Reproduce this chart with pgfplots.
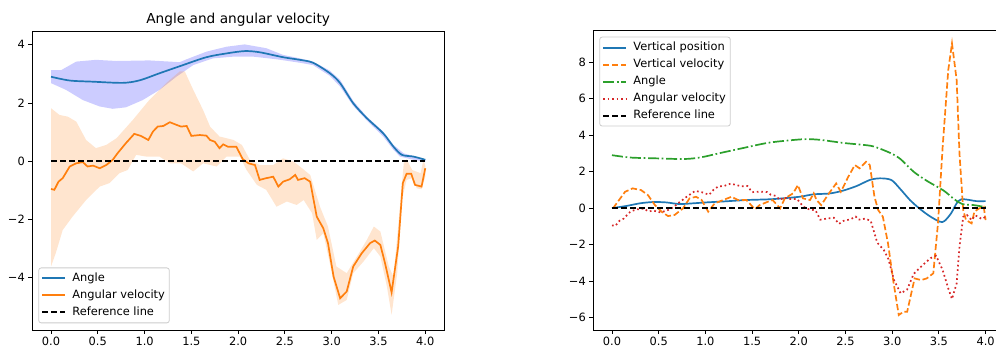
\documentclass[border=0pt]{standalone}
\usepackage{pgfplots}
\pgfplotsset{compat=1.18}
\usepackage{pgfplotstable}
\usepgfplotslibrary{fillbetween}
\usepackage{fontspec}
\setmainfont{DejaVu Sans}
\definecolor{mplblue}{HTML}{1F77B4}
\definecolor{mplorange}{HTML}{FF7F0E}
\definecolor{mplgreen}{HTML}{2CA02C}
\definecolor{mplred}{HTML}{D62728}
\definecolor{legedge}{HTML}{CCCCCC}

\pgfplotstableread{
x y
0 2.90
0.2 2.77
0.45 2.73
0.77 2.69
0.95 2.78
1.16 3.02
1.375 3.26
1.66 3.57
1.875 3.70
2.07 3.78
2.23 3.74
2.48 3.57
2.66 3.48
2.8 3.38
2.98 3.02
3.09 2.68
3.23 1.99
3.375 1.48
3.55 0.96
3.66 0.50
3.75 0.22
3.875 0.16
4.0 0.05
}\angletab

\pgfplotstableread{
x y
0 3.13
0.11 3.13
0.27 3.42
0.48 3.48
0.7 3.44
1.05 3.46
1.375 3.40
1.45 3.50
1.66 3.76
1.875 3.93
2.07 4.01
2.3 3.88
2.48 3.65
2.66 3.53
2.8 3.42
2.98 3.11
3.09 2.79
3.23 2.07
3.375 1.53
3.55 1.02
3.66 0.56
3.77 0.27
4.0 0.07
}\angleup

\pgfplotstableread{
x y
0 2.68
0.16 2.45
0.34 2.10
0.52 1.88
0.66 1.80
0.8 1.85
0.98 2.10
1.16 2.45
1.34 2.90
1.52 3.30
1.73 3.53
1.95 3.59
2.16 3.59
2.41 3.50
2.66 3.38
2.8 3.30
2.98 2.93
3.09 2.56
3.23 1.90
3.375 1.40
3.55 0.85
3.66 0.39
3.73 0.16
3.875 0.05
4.0 -0.01
}\anglelo

\pgfplotstableread{
x y
0.0 -0.95
0.036 -0.98
0.08 -0.70
0.125 -0.58
0.2 -0.18
0.27 -0.07
0.34 -0.03
0.39 -0.18
0.45 -0.15
0.52 -0.24
0.59 -0.13
0.66 0.05
0.71 0.27
0.8 0.62
0.89 0.94
0.96 0.87
1.04 0.73
1.09 1.02
1.14 1.19
1.2 1.21
1.27 1.34
1.34 1.25
1.39 1.19
1.45 1.21
1.5 0.87
1.59 0.90
1.66 0.88
1.7 0.73
1.75 0.67
1.8 0.45
1.84 0.58
1.89 0.50
1.98 0.50
2.05 0.07
2.11 -0.07
2.18 -0.13
2.23 -0.64
2.30 -0.58
2.375 -0.53
2.43 -0.87
2.48 -0.70
2.55 -0.62
2.61 -0.47
2.64 -0.64
2.71 -0.58
2.77 -0.70
2.84 -1.90
2.91 -2.30
2.96 -2.81
3.02 -3.96
3.09 -4.70
3.16 -4.47
3.23 -3.61
3.32 -3.16
3.41 -2.81
3.46 -2.72
3.52 -2.87
3.57 -3.50
3.64 -4.50
3.71 -2.93
3.76 -0.75
3.80 -0.43
3.85 -0.43
3.89 -0.81
3.96 -0.87
4.0 -0.24
}\avtab

\pgfplotstableread{
x y
0 1.82
0.09 1.59
0.18 1.53
0.27 1.36
0.375 0.73
0.48 0.45
0.59 0.56
0.7 0.79
0.875 1.42
1.05 2.10
1.23 2.68
1.375 3.08
1.43 3.08
1.52 2.45
1.625 1.76
1.7 1.19
1.8 0.85
1.95 0.73
2.04 0.56
2.125 0.05
2.23 -0.13
2.375 -0.13
2.48 0.10
2.59 -0.01
2.66 -0.18
2.77 -0.47
2.875 -1.56
2.96 -2.24
3.05 -3.61
3.16 -3.84
3.29 -3.16
3.375 -2.70
3.45 -2.24
3.52 -2.41
3.61 -3.61
3.66 -3.96
3.71 -2.24
3.77 -0.07
3.8 0.07
3.86 -0.30
3.95 -0.41
3.98 0.05
4.0 -0.15
}\avup

\pgfplotstableread{
x y
0 -3.61
0.05 -3.16
0.125 -2.36
0.23 -1.90
0.375 -1.33
0.52 -0.87
0.625 -0.75
0.73 -0.41
0.82 -0.30
0.91 0.22
1.02 0.16
1.16 0.16
1.27 -0.07
1.39 -0.07
1.52 -0.35
1.625 -0.07
1.77 -0.18
1.875 0.16
2.02 0.16
2.09 -0.30
2.2 -0.81
2.30 -0.98
2.41 -1.56
2.52 -1.38
2.625 -1.50
2.70 -1.33
2.79 -1.78
2.84 -2.70
2.91 -2.47
2.98 -3.50
3.07 -4.93
3.16 -4.76
3.23 -3.84
3.34 -3.44
3.45 -2.98
3.52 -3.27
3.59 -4.30
3.64 -5.27
3.70 -3.84
3.75 -1.33
3.80 -0.64
3.86 -0.58
3.91 -0.93
3.96 -0.96
4.0 -0.53
}\avlo

\pgfplotstableread{
x y
0 0
0.15 0.11
0.3 0.26
0.44 0.33
0.58 0.31
0.72 0.22
0.87 0.26
1.01 0.31
1.22 0.37
1.44 0.44
1.72 0.49
2.01 0.62
2.15 0.75
2.33 0.80
2.47 0.95
2.62 1.21
2.76 1.54
2.87 1.63
2.99 1.54
3.08 1.08
3.19 0.44
3.29 -0.02
3.40 -0.44
3.51 -0.75
3.56 -0.71
3.63 -0.29
3.69 0.26
3.74 0.48
3.83 0.44
3.90 0.38
4.0 0.38
}\vpostab

\pgfplotstableread{
x y
0.01 -0.02
0.05 0.26
0.14 0.89
0.22 1.08
0.31 0.99
0.385 0.71
0.46 0.16
0.53 -0.20
0.60 -0.44
0.67 -0.38
0.76 -0.02
0.83 0.53
0.90 0.62
0.96 0.44
1.03 -0.20
1.10 0.26
1.19 0.44
1.28 0.62
1.35 0.44
1.44 0.44
1.53 -0.07
1.58 0.16
1.67 0.35
1.72 0.44
1.80 -0.02
1.85 0.53
1.94 0.81
1.99 1.26
2.045 0.53
2.12 0.44
2.16 0.81
2.19 0.44
2.24 0.16
2.31 0.71
2.40 1.35
2.45 0.89
2.53 1.72
2.60 2.36
2.65 2.18
2.72 2.54
2.76 2.36
2.81 0.62
2.85 -0.11
2.90 -0.48
2.955 -1.94
3.01 -3.95
3.07 -5.87
3.12 -5.69
3.16 -5.69
3.24 -3.86
3.31 -3.95
3.37 -3.86
3.44 -3.58
3.49 -0.84
3.54 3.36
3.60 7.57
3.64 9.03
3.69 7.02
3.72 3.00
3.76 -0.11
3.79 -0.66
3.85 -0.84
3.88 -0.20
3.93 -0.02
3.98 0.07
4.0 -0.66
}\vveltab

\pgfplotstableread{
x y
0.0 -0.95
0.036 -0.98
0.08 -0.70
0.125 -0.58
0.2 -0.18
0.27 -0.07
0.34 -0.03
0.39 -0.18
0.45 -0.15
0.52 -0.24
0.59 -0.13
0.66 0.05
0.71 0.27
0.8 0.62
0.89 0.94
0.96 0.87
1.04 0.73
1.09 1.02
1.14 1.19
1.2 1.21
1.27 1.34
1.34 1.25
1.39 1.19
1.45 1.21
1.5 0.87
1.59 0.90
1.66 0.88
1.7 0.73
1.75 0.67
1.8 0.45
1.84 0.58
1.89 0.50
1.98 0.50
2.05 0.07
2.11 -0.07
2.18 -0.13
2.23 -0.64
2.30 -0.58
2.375 -0.53
2.43 -0.87
2.48 -0.70
2.55 -0.62
2.61 -0.47
2.64 -0.64
2.71 -0.58
2.77 -0.70
2.84 -1.90
2.91 -2.30
2.96 -2.81
3.02 -3.96
3.09 -4.68
3.16 -4.47
3.23 -3.61
3.32 -3.16
3.41 -2.75
3.47 -2.62
3.54 -3.40
3.60 -4.41
3.64 -4.99
3.69 -4.13
3.72 -2.12
3.76 -0.48
3.80 -0.38
3.85 -0.66
3.89 -0.40
3.96 -0.60
4.0 -0.48
}\avtabB

\pgfplotsset{
  mpl/.style={
    scale only axis,
    axis line style={line width=0.9pt},
    tick align=outside,
    tick pos=left,
    major tick length=4pt,
    every tick/.style={black, line width=0.9pt},
    tick label style={font=\fontsize{11.4}{13.7}\selectfont},
    /pgf/number format/assume math mode=true,
    xmin=-0.2, xmax=4.2,
    xtick={0,0.5,1,1.5,2,2.5,3,3.5,4},
    xticklabels={0.0,0.5,1.0,1.5,2.0,2.5,3.0,3.5,4.0},
    legend cell align=left,
    legend style={font=\fontsize{11.4}{13.7}\selectfont, draw=legedge, line width=0.8pt,
      rounded corners=2.5pt, fill=white,
      inner xsep=2.4pt, inner ysep=3pt, row sep=2pt, column sep=4.3pt,
      nodes={inner sep=2pt, text height=8.5pt, text depth=2.5pt}},
    legend image code/.code={\draw[##1, line width=2pt, rounded corners=0pt] (0pt,0pt) -- (23pt,0pt);},
  },
  lw/.style={line width=1.7pt},
  ls dashed/.style={dash pattern=on 6.3pt off 2.7pt},
  ls dashdot/.style={dash pattern=on 11pt off 2.7pt on 1.7pt off 2.7pt},
  ls dotted/.style={dash pattern=on 1.7pt off 2.8pt},
}

\begin{document}
\begin{tikzpicture}

\begin{axis}[mpl,
  at={(32.3pt,17pt)}, anchor=south west,
  width=411.7pt, height=299pt,
  ymin=-5.79, ymax=4.47,
  ytick={-4,-2,0,2,4},
  yticklabels={−4,−2,0,2,4},
  title={Angle and angular velocity},
  title style={font=\fontsize{13.7}{16}\selectfont, yshift=-5pt},
  legend style={at={(0.0146,0.0224)}, anchor=south west},
]
\addplot[name path=au, draw=none, forget plot] table {\angleup};
\addplot[name path=al, draw=none, forget plot] table {\anglelo};
\addplot[fill=blue, fill opacity=0.2, draw=none, forget plot] fill between[of=au and al];
\addplot[name path=vu, draw=none, forget plot] table {\avup};
\addplot[name path=vl, draw=none, forget plot] table {\avlo};
\addplot[fill=mplorange, fill opacity=0.2, draw=none, forget plot] fill between[of=vu and vl];
\addplot[mplblue, lw, smooth, forget plot] table {\angletab};
\addplot[mplorange, lw, forget plot] table {\avtab};
\addplot[black, lw, ls dashed, forget plot] coordinates {(0,0) (4,0)};
\addlegendimage{mplblue, lw}
\addlegendentry{Angle}
\addlegendimage{mplorange, lw}
\addlegendentry{Angular velocity}
\addlegendimage{black, lw, ls dashed}
\addlegendentry{Reference line}
\end{axis}

\begin{axis}[mpl,
  at={(593.3pt,17pt)}, anchor=south west,
  width=411pt, height=299.3pt,
  ymin=-6.69, ymax=9.73,
  ytick={-6,-4,-2,0,2,4,6,8},
  yticklabels={−6,−4,−2,0,2,4,6,8},
  legend style={at={(0.0146,0.98)}, anchor=north west},
]
\addplot[mplblue, lw, smooth, forget plot] table {\vpostab};
\addplot[mplorange, lw, ls dashed, forget plot] table {\vveltab};
\addplot[mplgreen, lw, smooth, ls dashdot, forget plot] table {\angletab};
\addplot[mplred, lw, ls dotted, forget plot] table {\avtabB};
\addplot[black, lw, ls dashed, forget plot] coordinates {(0,0) (4,0)};
\addlegendimage{mplblue, lw}
\addlegendentry{Vertical position}
\addlegendimage{mplorange, lw, ls dashed}
\addlegendentry{Vertical velocity}
\addlegendimage{mplgreen, lw, ls dashdot}
\addlegendentry{Angle}
\addlegendimage{mplred, lw, ls dotted}
\addlegendentry{Angular velocity}
\addlegendimage{black, lw, ls dashed}
\addlegendentry{Reference line}
\end{axis}
\pgfresetboundingbox
\useasboundingbox (0pt,0pt) rectangle (996pt,347pt);
\end{tikzpicture}
\end{document}
